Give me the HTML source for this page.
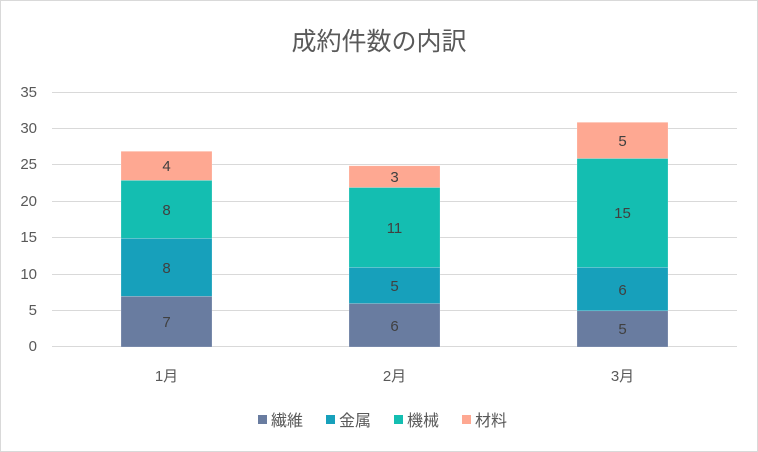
<!DOCTYPE html>
<html><head><meta charset="utf-8"><style>
body{margin:0;background:#fff}
svg{display:block;font-family:"Liberation Sans","Noto Sans CJK JP",sans-serif}
</style></head><body>
<svg width="758" height="452" viewBox="0 0 758 452">
<rect x="0.5" y="0.5" width="757" height="451" fill="#fff" stroke="#d9d9d9"/>
<text x="379" y="50" text-anchor="middle" font-size="25" fill="#595959">成約件数の内訳</text>
<g stroke="#d9d9d9" stroke-width="1">
<line x1="52" x2="737" y1="92.5" y2="92.5"/>
<line x1="52" x2="737" y1="128.5" y2="128.5"/>
<line x1="52" x2="737" y1="164.5" y2="164.5"/>
<line x1="52" x2="737" y1="201.5" y2="201.5"/>
<line x1="52" x2="737" y1="237.5" y2="237.5"/>
<line x1="52" x2="737" y1="274.5" y2="274.5"/>
<line x1="52" x2="737" y1="310.5" y2="310.5"/>
<line x1="52" x2="737" y1="346.5" y2="346.5"/>
</g>
<g font-size="15" fill="#595959" text-anchor="end">
<text x="37" y="97">35</text><text x="37" y="133">30</text><text x="37" y="169">25</text>
<text x="37" y="206">20</text><text x="37" y="242">15</text><text x="37" y="279">10</text>
<text x="37" y="315">5</text><text x="37" y="351">0</text>
</g>
<g stroke="#fff" stroke-opacity="0.4" stroke-width="0.5">
<rect x="121" y="296.3" width="91" height="50.7" fill="#697ca0"/>
<rect x="121" y="238.3" width="91" height="58" fill="#17a0bb"/>
<rect x="121" y="180.3" width="91" height="58" fill="#14beb1"/>
<rect x="121" y="151.3" width="91" height="29" fill="#fea892"/>
<rect x="349" y="303.5" width="91" height="43.5" fill="#697ca0"/>
<rect x="349" y="267.3" width="91" height="36.2" fill="#17a0bb"/>
<rect x="349" y="187.5" width="91" height="79.8" fill="#14beb1"/>
<rect x="349" y="165.8" width="91" height="21.7" fill="#fea892"/>
<rect x="577" y="310.8" width="91" height="36.2" fill="#697ca0"/>
<rect x="577" y="267.3" width="91" height="43.5" fill="#17a0bb"/>
<rect x="577" y="158.5" width="91" height="108.8" fill="#14beb1"/>
<rect x="577" y="122.3" width="91" height="36.2" fill="#fea892"/>
</g>
<g font-size="15" fill="#404040" text-anchor="middle">
<text x="166.5" y="327">7</text><text x="166.5" y="273">8</text><text x="166.5" y="215">8</text><text x="166.5" y="171">4</text>
<text x="394.5" y="331">6</text><text x="394.5" y="291">5</text><text x="394.5" y="233">11</text><text x="394.5" y="182">3</text>
<text x="622.5" y="334">5</text><text x="622.5" y="295">6</text><text x="622.5" y="218">15</text><text x="622.5" y="146">5</text>
</g>
<g font-size="15" fill="#595959" text-anchor="middle">
<text x="166.5" y="381">1月</text><text x="394.5" y="381">2月</text><text x="622.5" y="381">3月</text>
</g>
<g font-size="16" fill="#595959">
<rect x="258" y="415" width="9" height="9" fill="#697ca0"/><text x="271" y="426">繊維</text>
<rect x="326" y="415" width="9" height="9" fill="#17a0bb"/><text x="339" y="426">金属</text>
<rect x="394" y="415" width="9" height="9" fill="#14beb1"/><text x="407" y="426">機械</text>
<rect x="462" y="415" width="9" height="9" fill="#fea892"/><text x="475" y="426">材料</text>
</g>
</svg>
</body></html>
